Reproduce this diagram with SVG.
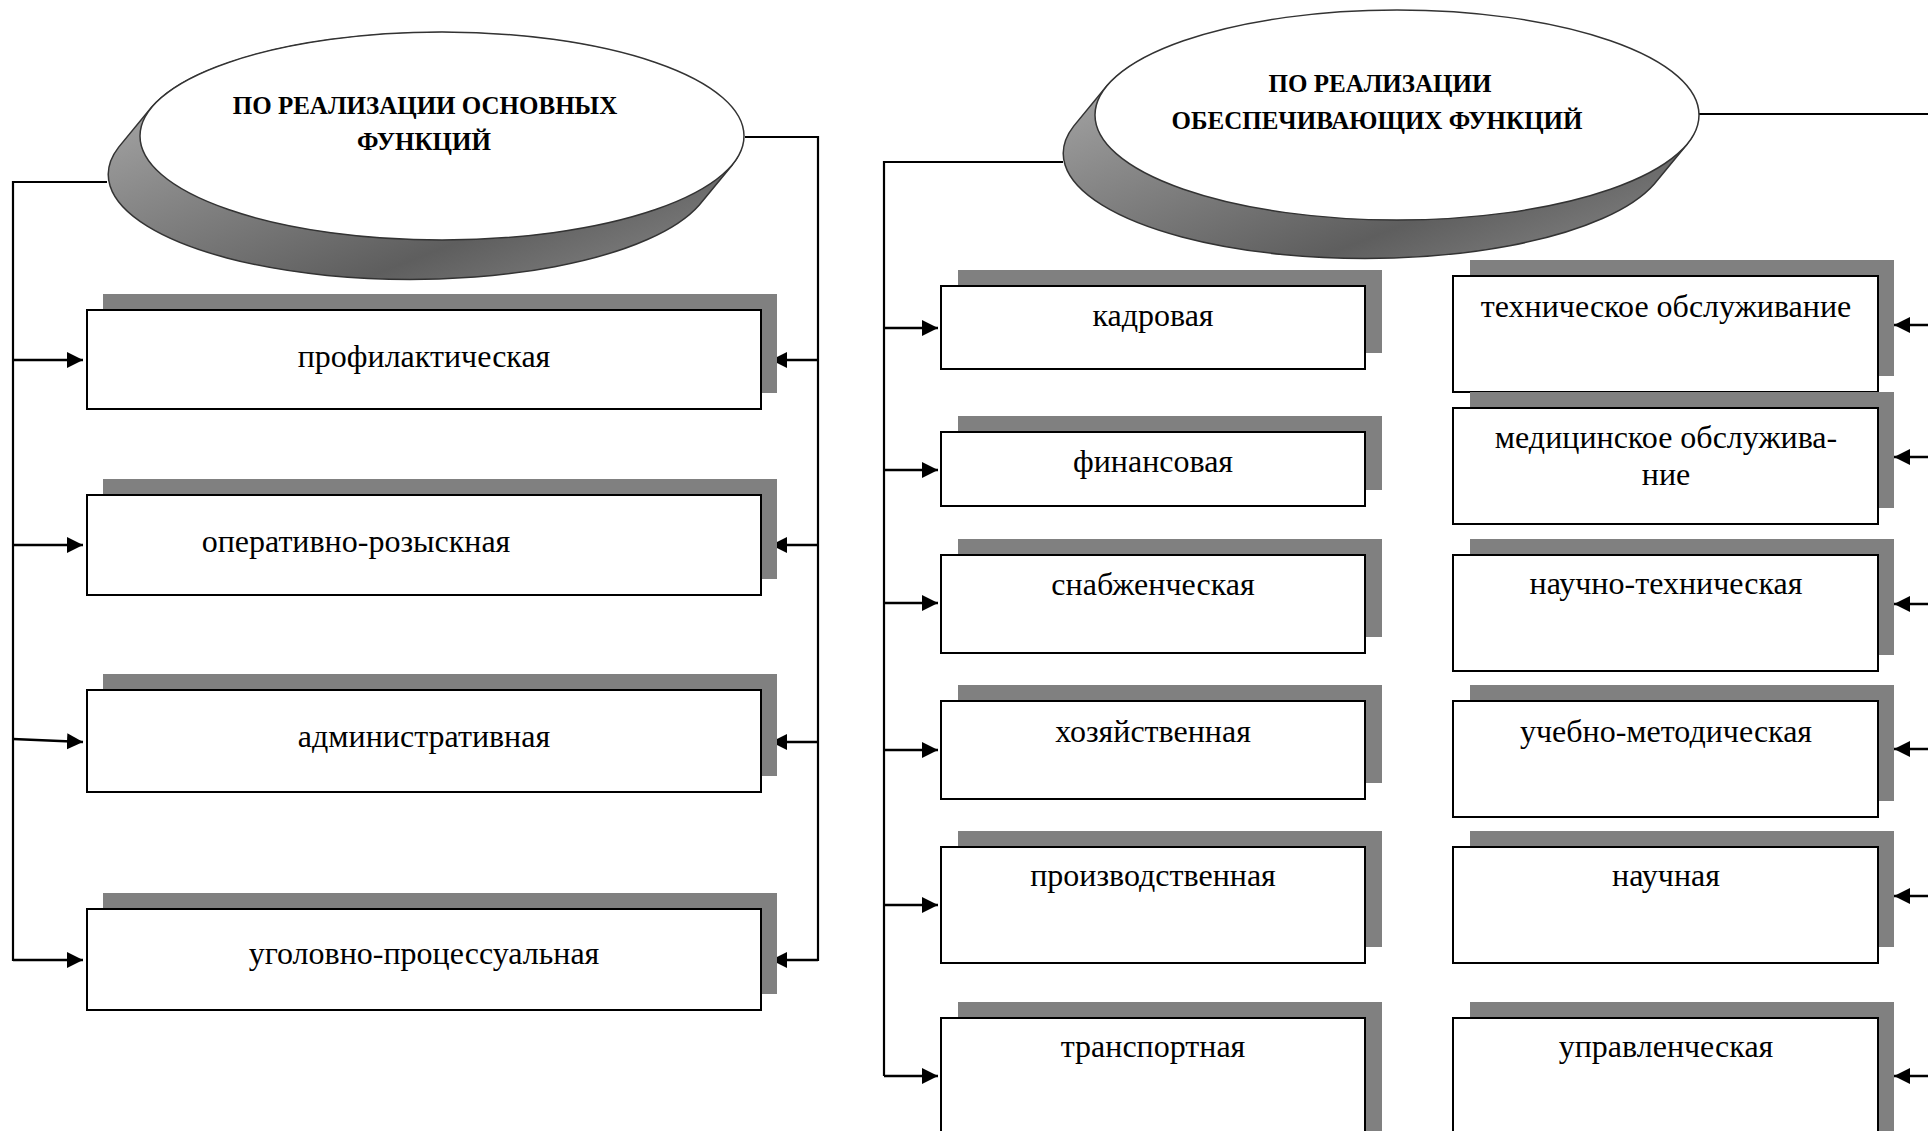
<svg xmlns="http://www.w3.org/2000/svg" width="1928" height="1131" viewBox="0 0 1928 1131">
<style>
.bg{fill:#fff}
.box{fill:#fff;stroke:#000;stroke-width:2}
.sh{fill:#808080}
.t{font-family:"Liberation Serif","Times New Roman",serif;font-size:32px;fill:#000;text-anchor:middle}
.h{font-family:"Liberation Serif","Times New Roman",serif;font-size:25px;font-weight:bold;fill:#000;text-anchor:middle}
.ln{fill:none;stroke:#000;stroke-width:2.2}
.ar{fill:none;stroke:#000;stroke-width:2.6;marker-end:url(#arr)}
.ext{fill:url(#eg);stroke:#333;stroke-width:1.5}
.ell{fill:#fff;stroke:#333;stroke-width:1.5}
</style>
<defs>
<marker id="arr" markerUnits="userSpaceOnUse" markerWidth="17" markerHeight="17" refX="16" refY="8" orient="auto">
<path d="M0,0 L16,8 L0,16 Z" fill="#000"/>
</marker>
<linearGradient id="eg" x1="0" y1="0" x2="1" y2="1">
<stop offset="0" stop-color="#b8b8b8"/>
<stop offset="0.35" stop-color="#8a8a8a"/>
<stop offset="0.7" stop-color="#5e5e5e"/>
<stop offset="1" stop-color="#8c8c8c"/>
</linearGradient>
</defs>
<rect class="bg" x="0" y="0" width="1928" height="1131"/>

<g id="connectors">
<polyline class="ln" points="107,182 13,182 13,961"/>
<polyline class="ln" points="745,137 818,137 818,961"/>
<line class="ar" x1="13" y1="360" x2="83" y2="360"/>
<line class="ar" x1="13" y1="545" x2="83" y2="545"/>
<line class="ar" x1="13" y1="739" x2="83" y2="742"/>
<line class="ar" x1="13" y1="960" x2="83" y2="960"/>
<line class="ar" x1="818" y1="360" x2="771" y2="360"/>
<line class="ar" x1="818" y1="545" x2="771" y2="545"/>
<line class="ar" x1="818" y1="742" x2="771" y2="742"/>
<line class="ar" x1="818" y1="960" x2="771" y2="960"/>
<polyline class="ln" points="1063,162 884,162 884,1076"/>
<line class="ln" x1="1699" y1="114" x2="1928" y2="114"/>
<line class="ar" x1="884" y1="328" x2="938" y2="328"/>
<line class="ar" x1="884" y1="470" x2="938" y2="470"/>
<line class="ar" x1="884" y1="603" x2="938" y2="603"/>
<line class="ar" x1="884" y1="750" x2="938" y2="750"/>
<line class="ar" x1="884" y1="905" x2="938" y2="905"/>
<line class="ar" x1="884" y1="1076" x2="938" y2="1076"/>
<line class="ar" x1="1928" y1="325" x2="1894" y2="325"/>
<line class="ar" x1="1928" y1="457" x2="1894" y2="457"/>
<line class="ar" x1="1928" y1="604" x2="1894" y2="604"/>
<line class="ar" x1="1928" y1="749" x2="1894" y2="749"/>
<line class="ar" x1="1928" y1="896" x2="1894" y2="896"/>
<line class="ar" x1="1928" y1="1076" x2="1894" y2="1076"/>
</g>

<g id="ellipse-main">
<path class="ext" d="M732.3,164.9 L699.3,204.9 A302,105 0 0 1 118.7,147.1 L151.7,107.1 A302,105 0 0 1 732.3,164.9 Z"/>
<ellipse class="ell" cx="442" cy="136" rx="302" ry="104"/>
<text class="h" x="425" y="114">ПО РЕАЛИЗАЦИИ ОСНОВНЫХ</text>
<text class="h" x="424" y="150">ФУНКЦИЙ</text>
</g>

<g id="ellipse-support">
<path class="ext" d="M1687.3,143.9 L1654.3,183.9 A302,105 0 0 1 1073.7,126.1 L1106.7,86.1 A302,105 0 0 1 1687.3,143.9 Z"/>
<ellipse class="ell" cx="1397" cy="115" rx="302" ry="105"/>
<text class="h" x="1380" y="92">ПО РЕАЛИЗАЦИИ</text>
<text class="h" x="1377" y="129">ОБЕСПЕЧИВАЮЩИХ ФУНКЦИЙ</text>
</g>

<g id="n-profil"><rect class="sh" x="103" y="294" width="674" height="99"/><rect class="box" x="87" y="310" width="674" height="99"/><text class="t" x="424" y="367">профилактическая</text></g>
<g id="n-operativ"><rect class="sh" x="103" y="479" width="674" height="100"/><rect class="box" x="87" y="495" width="674" height="100"/><text class="t" x="356" y="552">оперативно-розыскная</text></g>
<g id="n-admin"><rect class="sh" x="103" y="674" width="674" height="102"/><rect class="box" x="87" y="690" width="674" height="102"/><text class="t" x="424" y="747">административная</text></g>
<g id="n-ugol"><rect class="sh" x="103" y="893" width="674" height="101"/><rect class="box" x="87" y="909" width="674" height="101"/><text class="t" x="424" y="964">уголовно-процессуальная</text></g>

<g id="n-kadr"><rect class="sh" x="958" y="270" width="424" height="83"/><rect class="box" x="941" y="286" width="424" height="83"/><text class="t" x="1153" y="326">кадровая</text></g>
<g id="n-fin"><rect class="sh" x="958" y="416" width="424" height="74"/><rect class="box" x="941" y="432" width="424" height="74"/><text class="t" x="1153" y="472">финансовая</text></g>
<g id="n-snab"><rect class="sh" x="958" y="539" width="424" height="98"/><rect class="box" x="941" y="555" width="424" height="98"/><text class="t" x="1153" y="595">снабженческая</text></g>
<g id="n-hoz"><rect class="sh" x="958" y="685" width="424" height="98"/><rect class="box" x="941" y="701" width="424" height="98"/><text class="t" x="1153" y="742">хозяйственная</text></g>
<g id="n-proizv"><rect class="sh" x="958" y="831" width="424" height="116"/><rect class="box" x="941" y="847" width="424" height="116"/><text class="t" x="1153" y="886">производственная</text></g>
<g id="n-transp"><rect class="sh" x="958" y="1002" width="424" height="160"/><rect class="box" x="941" y="1018" width="424" height="160"/><text class="t" x="1153" y="1057">транспортная</text></g>

<g id="n-tehobsl"><rect class="sh" x="1470" y="260" width="424" height="116"/><rect class="box" x="1453" y="276" width="425" height="116"/><text class="t" x="1666" y="317">техническое обслуживание</text></g>
<g id="n-medobsl"><rect class="sh" x="1470" y="392" width="424" height="116"/><rect class="box" x="1453" y="408" width="425" height="116"/><text class="t" x="1666" y="448">медицинское обслужива-</text><text class="t" x="1666" y="485">ние</text></g>
<g id="n-nauchteh"><rect class="sh" x="1470" y="539" width="424" height="116"/><rect class="box" x="1453" y="555" width="425" height="116"/><text class="t" x="1666" y="594">научно-техническая</text></g>
<g id="n-uchmet"><rect class="sh" x="1470" y="685" width="424" height="116"/><rect class="box" x="1453" y="701" width="425" height="116"/><text class="t" x="1666" y="742">учебно-методическая</text></g>
<g id="n-nauch"><rect class="sh" x="1470" y="831" width="424" height="116"/><rect class="box" x="1453" y="847" width="425" height="116"/><text class="t" x="1666" y="886">научная</text></g>
<g id="n-uprav"><rect class="sh" x="1470" y="1002" width="424" height="160"/><rect class="box" x="1453" y="1018" width="425" height="160"/><text class="t" x="1666" y="1057">управленческая</text></g>
</svg>
